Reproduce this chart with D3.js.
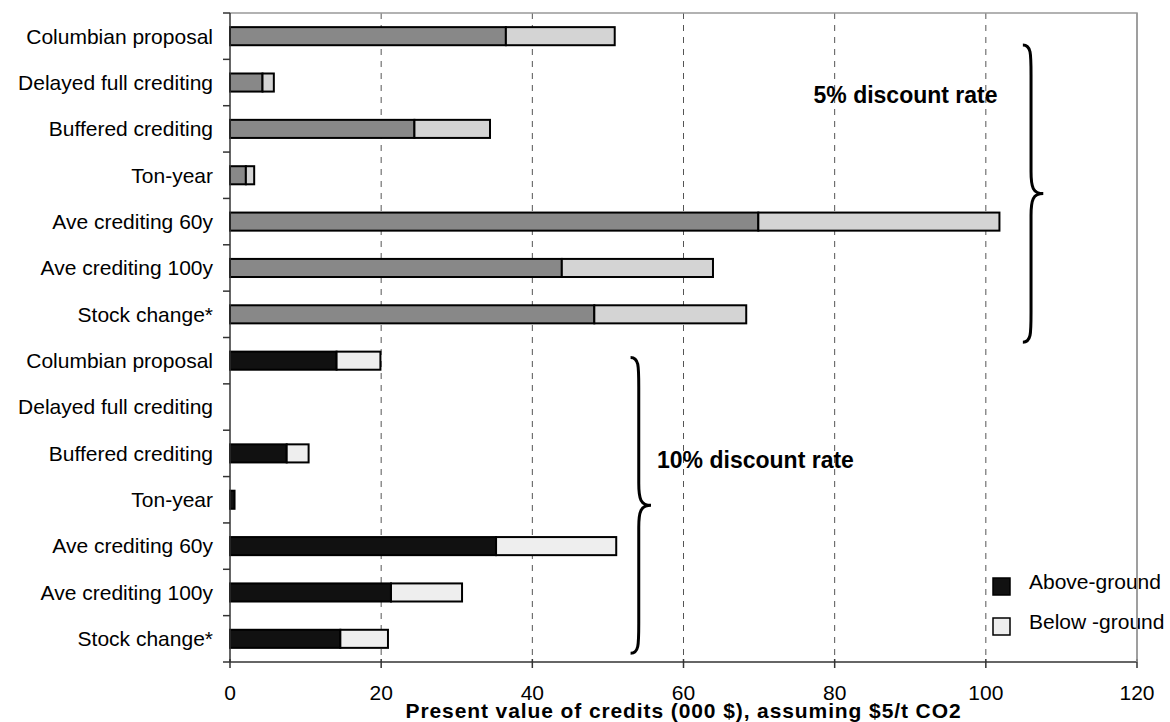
<!DOCTYPE html>
<html>
<head>
<meta charset="utf-8">
<script src="https://cdn.jsdelivr.net/npm/d3@7"></script>
<style>
  body { margin: 0; background: #fff; }
  svg { display: block; font-family: Arial, "Liberation Sans", sans-serif; }
</style>
</head>
<body>
<svg id="chart" width="1170" height="722"></svg>
<script>
// schemes, top group = 5% discount rate, bottom group = 10% discount rate
var schemes = ["Columbian proposal", "Delayed full crediting", "Buffered crediting",
  "Ton-year", "Ave crediting 60y", "Ave crediting 100y", "Stock change*"];

var above5 = [36.5, 4.3, 24.4, 2.1, 69.9, 43.9, 48.2];
var below5 = [14.4, 1.5, 10.0, 1.1, 31.9, 20.0, 20.1];
var above10 = [14.1, 0, 7.5, 0.6, 35.2, 21.3, 14.6];
var below10 = [5.8, 0, 2.9, 0, 15.9, 9.4, 6.3];

var xTicks = [0, 20, 40, 60, 80, 100, 120];
var legendLabels = ["Above-ground", "Below -ground"];
var groupLabels = ["5% discount rate", "10% discount rate"];

var svg = d3.select("#chart"),
    width = +svg.attr("width"),
    height = +svg.attr("height");
var margin = {top: 13, right: 33, bottom: 60, left: 230};
var w = width - margin.left - margin.right,
    h = height - margin.top - margin.bottom;

// one row per bar
var rows = [];
schemes.forEach((s, i) => rows.push({key: "r5_" + i, label: s, above: above5[i], below: below5[i], grp: 0}));
schemes.forEach((s, i) => rows.push({key: "r10_" + i, label: s, above: above10[i], below: below10[i], grp: 1}));

var x = d3.scaleLinear().domain([0, 120]).range([0, w]);
var y = d3.scaleBand()
  .domain(rows.map(d => d.key))
  .range([0, h])
  .paddingInner(0.61)
  .paddingOuter(0.305);

var aboveFill = ["#888888", "#111111"];
var belowFill = ["#d4d4d4", "#eeeeee"];

var g = svg.append("g").attr("transform", `translate(${margin.left},${margin.top})`);

// dashed grid
g.append("g")
  .selectAll("line")
  .data(xTicks.filter(t => t > 0 && t < 120))
  .join("line")
    .attr("x1", d => x(d)).attr("x2", d => x(d))
    .attr("y1", 0).attr("y2", h)
    .attr("stroke", "#555")
    .attr("stroke-width", 1)
    .attr("stroke-dasharray", "6,6");

// top / right frame
g.append("path")
  .attr("d", `M0,0H${w}V${h}`)
  .attr("fill", "none")
  .attr("stroke", "#999")
  .attr("stroke-width", 1.5);

// bars
var bar = g.append("g").selectAll("g")
  .data(rows)
  .join("g")
    .attr("transform", d => `translate(0,${y(d.key)})`);

bar.filter(d => d.above > 0).append("rect")
  .attr("x", 0)
  .attr("width", d => x(d.above))
  .attr("height", y.bandwidth())
  .attr("fill", d => aboveFill[d.grp])
  .attr("stroke", "#000")
  .attr("stroke-width", 2);

bar.filter(d => d.below > 0).append("rect")
  .attr("x", d => x(d.above))
  .attr("width", d => x(d.above + d.below) - x(d.above))
  .attr("height", y.bandwidth())
  .attr("fill", d => belowFill[d.grp])
  .attr("stroke", "#000")
  .attr("stroke-width", 2);

// y axis: ticks at row boundaries
var step = y.step();
var yAxis = g.append("g");
yAxis.append("line")
  .attr("x1", 0).attr("x2", 0).attr("y1", 0).attr("y2", h)
  .attr("stroke", "#333").attr("stroke-width", 1.5);
yAxis.selectAll(".tk")
  .data(d3.range(rows.length + 1))
  .join("line")
    .attr("class", "tk")
    .attr("x1", -7).attr("x2", 0)
    .attr("y1", i => i * step).attr("y2", i => i * step)
    .attr("stroke", "#333").attr("stroke-width", 1.5);
yAxis.selectAll("text")
  .data(rows)
  .join("text")
    .attr("x", -17)
    .attr("y", d => y(d.key) + y.bandwidth() / 2)
    .attr("dy", "0.35em")
    .attr("text-anchor", "end")
    .attr("font-size", 21)
    .attr("fill", "#000")
    .text(d => d.label);

// x axis
var xAxis = g.append("g").attr("transform", `translate(0,${h})`);
xAxis.append("line")
  .attr("x1", 0).attr("x2", w)
  .attr("stroke", "#333").attr("stroke-width", 1.5);
xAxis.selectAll(".tk")
  .data(xTicks)
  .join("line")
    .attr("class", "tk")
    .attr("x1", d => x(d)).attr("x2", d => x(d))
    .attr("y1", -3).attr("y2", 6)
    .attr("stroke", "#333").attr("stroke-width", 1.5);
xAxis.selectAll("text")
  .data(xTicks)
  .join("text")
    .attr("x", d => x(d))
    .attr("y", 38)
    .attr("text-anchor", "middle")
    .attr("font-size", 21)
    .text(d => d);

svg.append("text")
  .attr("x", margin.left + w / 2)
  .attr("y", 718)
  .attr("text-anchor", "middle")
  .attr("font-size", 21)
  .attr("font-weight", "bold")
  .attr("letter-spacing", 0.9)
  .text("Present value of credits (000 $), assuming $5/t CO2");

// braces, in data units on x and row units on y
function brace(x0, x1, r0, r1) {
  var yt = r0 * step, yb = r1 * step, ym = (yt + yb) / 2;
  var xa = x(x0), xb = x(x1), xm = xa + (xb - xa) * 0.4;
  return `M${xa},${yt}` +
    `C${xm},${yt} ${xm},${yt + 8} ${xm},${yt + 30}` +
    `L${xm},${ym - 22}` +
    `C${xm},${ym - 6} ${xm + 2},${ym} ${xb},${ym}` +
    `C${xm + 2},${ym} ${xm},${ym + 6} ${xm},${ym + 22}` +
    `L${xm},${yb - 30}` +
    `C${xm},${yb - 8} ${xm},${yb} ${xa},${yb}`;
}
var braces = [
  {x0: 104.9, x1: 107.6, r0: 0.69, r1: 7.1, lx: 77.2, ly: 103},
  {x0: 53.0, x1: 55.7, r0: 7.43, r1: 13.81, lx: 56.5, ly: 468}
];
g.append("g").selectAll("path")
  .data(braces)
  .join("path")
    .attr("d", d => brace(d.x0, d.x1, d.r0, d.r1))
    .attr("fill", "none")
    .attr("stroke", "#000")
    .attr("stroke-width", 3);

g.append("g").selectAll("text")
  .data(braces)
  .join("text")
    .attr("x", d => x(d.lx))
    .attr("y", d => d.ly - margin.top)
    .attr("font-size", 23)
    .attr("font-weight", "bold")
    .text((d, i) => groupLabels[i]);

// legend
var legend = svg.append("g").attr("transform", "translate(993,578)");
legend.selectAll("g")
  .data(legendLabels)
  .join("g")
    .attr("transform", (d, i) => `translate(0,${i * 40})`)
    .call(s => s.append("rect")
      .attr("width", 17).attr("height", 17)
      .attr("fill", (d, i) => i === 0 ? "#111" : "#eee")
      .attr("stroke", "#000").attr("stroke-width", 1.5))
    .call(s => s.append("text")
      .attr("x", 36).attr("y", 11)
      .attr("font-size", 21)
      .text(d => d));

// right frame line sits over the legend text
svg.append("line")
  .attr("x1", margin.left + w).attr("x2", margin.left + w)
  .attr("y1", margin.top).attr("y2", margin.top + h)
  .attr("stroke", "#999").attr("stroke-width", 1.5);
</script>
</body>
</html>
